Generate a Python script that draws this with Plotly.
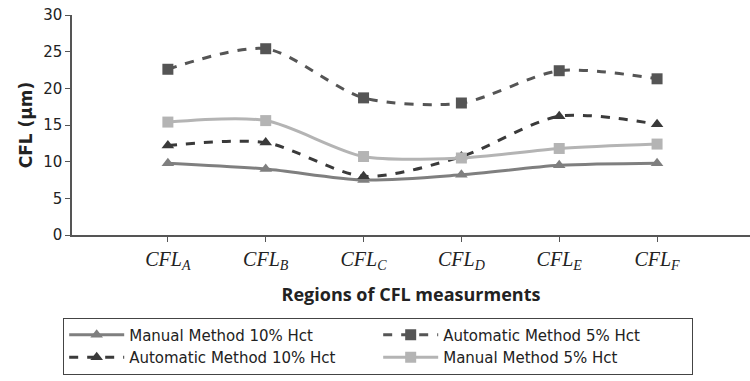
import plotly.graph_objects as go

regions = ["A", "B", "C", "D", "E", "F"]
tick_labels = ["<i>CFL<sub>%s</sub></i>" % r for r in regions]

manual_10 = [9.8, 9.0, 7.5, 8.2, 9.5, 9.8]
auto_10 = [12.2, 12.6, 8.0, 10.7, 16.2, 15.1]
auto_5 = [22.6, 25.4, 18.7, 18.0, 22.4, 21.3]
manual_5 = [15.4, 15.6, 10.7, 10.5, 11.8, 12.4]

series = [
    ("Manual Method 10% Hct", manual_10, "#7f7f7f", "solid", "triangle-up"),
    ("Automatic Method 5% Hct", auto_5, "#555555", "dash", "square"),
    ("Automatic Method 10% Hct", auto_10, "#3a3a3a", "dash", "triangle-up"),
    ("Manual Method 5% Hct", manual_5, "#b4b4b4", "solid", "square"),
]

x = list(range(len(regions)))
fig = go.Figure()
for name, vals, color, dash, sym in series:
    fig.add_trace(go.Scatter(
        x=x, y=vals, name=name, mode="lines+markers",
        line=dict(color=color, width=3, dash=dash, shape="spline", smoothing=0.8),
        marker=dict(color=color, symbol=sym, size=11),
    ))

fig.update_layout(
    width=750, height=381,
    margin=dict(l=72, r=0, t=15, b=146),
    paper_bgcolor="white", plot_bgcolor="white",
    font=dict(family="DejaVu Sans", color="#222222"),
    showlegend=True,
    legend=dict(
        orientation="h", x=-0.013, y=-0.375, xanchor="left", yanchor="top",
        bordercolor="#444444", borderwidth=1, entrywidth=244,
        font=dict(size=15, family="DejaVu Sans", color="#222222"),
        itemwidth=55, tracegroupgap=0,
    ),
    xaxis=dict(
        range=[-0.98, 5.95], tickvals=x, ticktext=tick_labels,
        showline=True, linecolor="#555555", linewidth=1.5,
        ticks="outside", ticklen=5, tickcolor="#555555",
        showgrid=False, zeroline=False,
        tickfont=dict(family="Liberation Serif", size=20, color="#222222"),
        title=dict(text="<b>Regions of CFL measurments</b>",
                   font=dict(family="Open Sans", size=18, color="#222222"), standoff=16),
    ),
    yaxis=dict(
        range=[0, 30], tickvals=[0, 5, 10, 15, 20, 25, 30],
        showline=True, linecolor="#555555", linewidth=1.5,
        ticks="outside", ticklen=5, tickcolor="#555555",
        showgrid=False, zeroline=False,
        tickfont=dict(family="DejaVu Sans", size=15, color="#222222"),
        title=dict(text="<b>CFL (μm)</b>",
                   font=dict(family="DejaVu Sans", size=17, color="#222222"), standoff=6),
    ),
)

fig.write_html("out.html")
